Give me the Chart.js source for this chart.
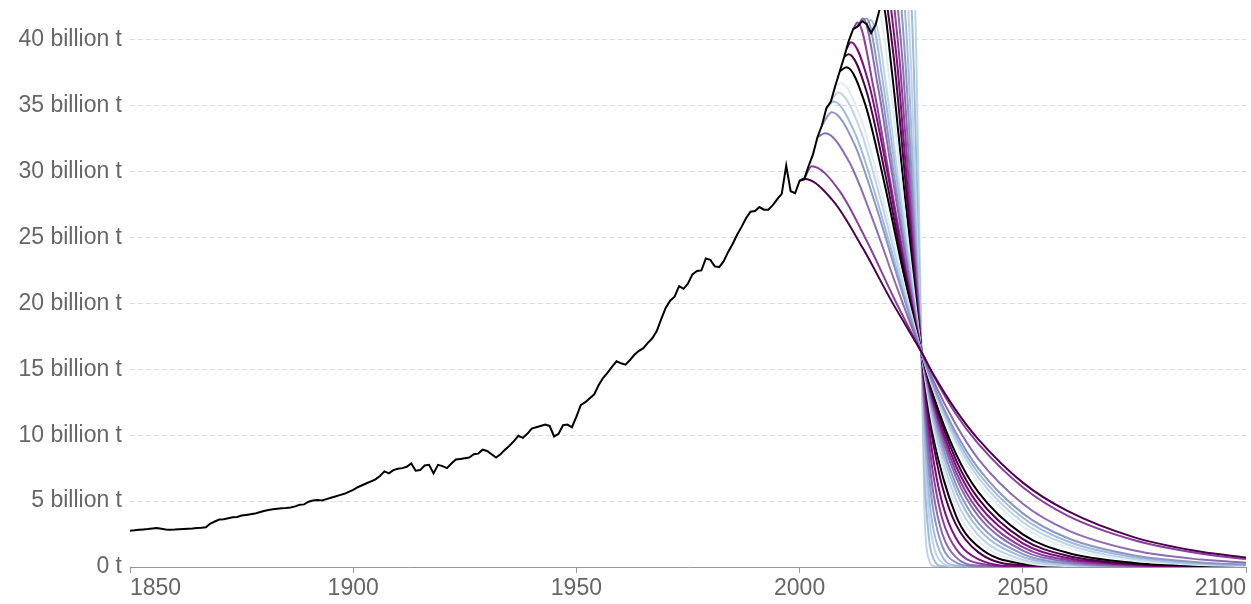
<!DOCTYPE html>
<html>
<head>
<meta charset="utf-8">
<script src="https://cdn.jsdelivr.net/npm/chart.js@4.4.1/dist/chart.umd.min.js"></script>
<style>
  html, body { margin: 0; padding: 0; background: #fff; }
</style>
</head>
<body>
<canvas id="chart" width="1251" height="604"></canvas>
<script>
// historical emissions (billion t), one value per year starting 1850
const histFirstYear = 1850;
const histValues = [
  2.75, 2.78, 2.82, 2.85, 2.88, 2.92, 2.96, 2.90, 2.84, 2.83,
  2.84, 2.86, 2.88, 2.90, 2.92, 2.95, 2.98, 3.02, 3.30, 3.45,
  3.60, 3.62, 3.70, 3.78, 3.80, 3.90, 3.95, 4.00, 4.05, 4.15,
  4.25, 4.32, 4.38, 4.42, 4.45, 4.48, 4.52, 4.60, 4.72, 4.75,
  4.95, 5.05, 5.08, 5.05, 5.15, 5.25, 5.35, 5.45, 5.55, 5.70,
  5.85, 6.05, 6.20, 6.35, 6.50, 6.65, 6.90, 7.25, 7.10, 7.35,
  7.45, 7.50, 7.60, 7.85, 7.30, 7.35, 7.70, 7.75, 7.10, 7.75,
  7.65, 7.50, 7.85, 8.15, 8.20, 8.25, 8.30, 8.55, 8.60, 8.90,
  8.80, 8.55, 8.30, 8.55, 8.90, 9.20, 9.55, 9.95, 9.80, 10.10,
  10.50, 10.60, 10.70, 10.80, 10.70, 9.90, 10.10, 10.75, 10.80, 10.60,
  11.40, 12.30, 12.50, 12.80, 13.10, 13.80, 14.35, 14.75, 15.20, 15.60,
  15.45, 15.35, 15.70, 16.10, 16.40, 16.60, 17.00, 17.35, 17.90, 18.80,
  19.65, 20.20, 20.50, 21.30, 21.10, 21.50, 22.20, 22.45, 22.50, 23.40,
  23.30, 22.80, 22.75, 23.20, 23.90, 24.50, 25.20, 25.80, 26.45, 26.95,
  27.00, 27.30, 27.10, 27.10, 27.45, 27.90, 28.30, 30.45, 28.50, 28.35,
  29.30, 29.40, 30.40, 31.30, 32.60, 33.50, 34.80, 35.30, 36.50, 37.60,
  38.70, 39.90, 40.80, 41.00, 41.40, 41.20, 40.50, 41.10, 42.40, 43.20
];

// mitigation curves as [year, billion t] pairs
const mit01 = [[2000,29.3],[2001,29.45],[2007.6,27.74],[2014.15,24.19],[2020.7,20.11],[2027.3,16.3],[2030,14.6],[2035,11.9],[2040,9.7],[2050,6.4],[2060,4.25],[2075,2.25],[2090,1.15],[2100,0.72]];
const mit02 = [[2001,29.4],[2002.7,30.4],[2008.85,28.57],[2015,24.76],[2021.15,20.39],[2027.3,16.3],[2030,14.5],[2035,11.6],[2040,9.36],[2050,6.05],[2060,3.9],[2075,2.03],[2090,1.0],[2100,0.6]];
const mit03 = [[2004,32.6],[2005.7,32.9],[2011.1,30.74],[2016.5,26.26],[2021.9,21.11],[2027.3,16.3],[2030,14.1],[2035,10.8],[2040,8.2],[2050,4.8],[2060,2.8],[2075,1.25],[2090,0.56],[2100,0.33]];
const mit04 = [[2005,33.5],[2007.2,34.5],[2012.2,32.13],[2017.25,27.22],[2022.3,21.58],[2027.3,16.3],[2030,13.8],[2035,10.2],[2040,7.5],[2050,4.07],[2060,2.2],[2075,0.88],[2090,0.35],[2100,0.19]];
const mit05 = [[2006,34.8],[2007.6,35.3],[2012.5,32.83],[2017.45,27.7],[2022.4,21.81],[2027.3,16.3],[2030,13.7],[2035,9.9],[2040,7.15],[2050,3.74],[2060,1.95],[2075,0.74],[2090,0.27],[2100,0.15]];
const mit06 = [[2007,35.3],[2008.6,36.0],[2013.3,33.44],[2017.95,28.12],[2022.65,22.01],[2027.3,16.3],[2030,13.5],[2035,9.6],[2040,6.8],[2050,3.4],[2060,1.71],[2075,0.61],[2090,0.21],[2100,0.11]];
const mit07 = [[2008,36.5],[2009.2,36.7],[2013.7,34.05],[2018.25,28.54],[2022.8,22.22],[2027.3,16.3],[2030,13.4],[2035,9.25],[2040,6.4],[2050,3.07],[2060,1.47],[2075,0.49],[2090,0.16],[2100,0.08]];
const mit08 = [[2009,37.6],[2010.5,37.9],[2014.7,35.09],[2018.9,29.26],[2023.1,22.56],[2027.3,16.3],[2030,13.0],[2035,8.6],[2040,5.7],[2050,2.48],[2060,1.08],[2075,0.31],[2090,0.09],[2100,0.04]];
const mit09 = [[2010,38.7],[2011,38.9],[2015.1,35.96],[2019.15,29.86],[2023.2,22.85],[2027.3,16.3],[2030,12.8],[2035,8.15],[2040,5.2],[2050,2.11],[2060,0.86],[2075,0.22],[2090,0.06],[2100,0.02]];
const mit10 = [[2010.5,39.3],[2011.5,39.8],[2015.45,36.75],[2019.4,30.4],[2023.35,23.1],[2027.3,16.3],[2030,12.5],[2035,7.7],[2040,4.75],[2050,1.8],[2060,0.68],[2075,0.16],[2090,0.04],[2100,0.01]];
const mit11 = [[2012,40.8],[2013,41.3],[2016.6,36.3],[2020.15,29.55],[2023.7,22.8],[2027.3,16.3],[2030,12.3],[2035,7.26],[2040,4.3],[2050,1.5],[2060,0.53],[2075,0.11],[2090,0.02],[2100,0.01]];
const mit12 = [[2013,41.0],[2014.2,41.6],[2017.5,36.54],[2020.75,29.71],[2024.0,22.88],[2027.3,16.3],[2030,12.0],[2035,6.83],[2040,3.88],[2050,1.25],[2060,0.4],[2075,0.07],[2090,0.01],[2100,0]];
const mit13 = [[2014,41.4],[2015,41.6],[2018.1,36.54],[2021.15,29.71],[2024.2,22.88],[2027.3,16.3],[2030,11.7],[2035,6.27],[2040,3.37],[2050,0.98],[2060,0.28],[2075,0.04],[2090,0.01],[2100,0]];
const mit14 = [[2015,41.2],[2016,41.5],[2018.8,36.46],[2021.65,29.66],[2024.5,22.85],[2027.3,16.3],[2030,11.3],[2035,5.77],[2040,2.93],[2050,0.76],[2060,0.2],[2075,0.03],[2090,0],[2100,0]];
const mit15 = [[2016,40.5],[2016.9,41.2],[2019.5,36.22],[2022.1,29.5],[2024.7,22.77],[2027.3,16.3],[2030,10.9],[2035,5.14],[2040,2.43],[2050,0.54],[2060,0.12],[2075,0.01],[2090,0],[2100,0]];
const mit16 = [[2017,41.1],[2017.8,41.9],[2020.2,36.78],[2022.55,29.87],[2024.9,22.96],[2027.3,16.3],[2030,10.4],[2035,4.58],[2040,2.0],[2050,0.38],[2060,0.07],[2075,0.01],[2090,0],[2100,0]];
const mit17 = [[2018,42.4],[2018.5,42.8],[2020.7,37.5],[2022.9,30.35],[2025.1,23.2],[2027.3,16.3],[2030,9.9],[2035,3.92],[2040,1.55],[2050,0.24],[2060,0.04],[2075,0],[2090,0],[2100,0]];
const mit18 = [[2019.35,43.3],[2021.34,37.9],[2023.33,30.61],[2025.31,23.32],[2027.3,16.3],[2028,14.07],[2029,11.4],[2030,9.25],[2032,6.07],[2035,3.23],[2040,1.13],[2050,0.14],[2100,0]];
const mit19 = [[2020.16,43.3],[2021.95,37.9],[2023.73,30.61],[2025.52,23.32],[2027.3,16.3],[2028,13.6],[2029,10.5],[2030,8.08],[2032,4.8],[2035,2.2],[2040,0.6],[2050,0.04],[2100,0]];
const mit20 = [[2020.97,43.3],[2022.55,37.9],[2024.14,30.61],[2025.72,23.32],[2027.3,16.3],[2028,13.0],[2029,9.46],[2030,6.87],[2032,3.62],[2035,1.39],[2040,0.28],[2050,0],[2100,0]];
const mit21 = [[2021.78,43.3],[2023.16,37.9],[2024.54,30.61],[2025.92,23.32],[2027.3,16.3],[2028,12.3],[2029,8.26],[2030,5.53],[2032,2.49],[2035,0.75],[2040,0.1],[2050,0],[2100,0]];
const mit22 = [[2022.6,43.3],[2023.78,37.9],[2024.95,30.61],[2026.13,23.32],[2027.3,16.3],[2028,11.5],[2029,6.97],[2030,4.22],[2032,1.55],[2035,0.35],[2040,0.03],[2050,0],[2100,0]];
const mit23 = [[2023.4,43.3],[2024.38,37.9],[2025.35,30.61],[2026.33,23.32],[2027.3,16.3],[2028,10.3],[2029,5.4],[2030,2.82],[2032,0.77],[2035,0.11],[2040,0],[2100,0]];
const mit24 = [[2024.2,43.3],[2024.98,37.9],[2025.75,30.61],[2026.53,23.32],[2027.3,16.3],[2028,9.0],[2029,3.84],[2030,1.64],[2032,0.3],[2035,0.02],[2040,0],[2100,0]];
const mit25 = [[2025.0,43.3],[2025.58,37.9],[2026.15,30.61],[2026.73,23.32],[2027.3,16.3],[2028,7.04],[2029,2.12],[2030,0.64],[2032,0.06],[2035,0],[2100,0]];
const mit26 = [[2025.84,43.3],[2026.2,37.9],[2026.57,30.61],[2026.93,23.32],[2027.3,16.3],[2028,4.02],[2029,0.54],[2030,0.07],[2032,0],[2100,0]];

const xTicks = [1850, 1900, 1950, 2000, 2050, 2100];
const yTicks = [0, 5, 10, 15, 20, 25, 30, 35, 40];

const curves = [mit01, mit02, mit03, mit04, mit05, mit06, mit07, mit08, mit09,
  mit10, mit11, mit12, mit13, mit14, mit15, mit16, mit17, mit18, mit19, mit20,
  mit21, mit22, mit23, mit24, mit25, mit26];

const curveColors = [
  '#4d004b', '#88419d', '#8c6bb1', '#8c96c6', '#9ebcda', '#bfd3e6', '#e0ecf4', '#000000',
  '#4d004b', '#810f7c', '#88419d', '#8c6bb1', '#8c96c6', '#9ebcda', '#bfd3e6', '#e0ecf4', '#000000',
  '#4d004b', '#810f7c', '#88419d', '#8c6bb1', '#8c96c6', '#9ebcda', '#bfd3e6', '#9ebcda', '#bfd3e6'
];

Chart.defaults.font.family = '"Liberation Sans", Arial, sans-serif';

const datasets = [{
  label: 'Historical',
  data: histValues.map((v, i) => ({ x: histFirstYear + i, y: v })),
  borderColor: '#000000',
  borderWidth: 2,
  pointRadius: 0,
  tension: 0
}];

curves.forEach(function (c, i) {
  datasets.push({
    label: 'curve ' + (i + 1),
    data: c.map(p => ({ x: p[0], y: p[1] })),
    borderColor: curveColors[i],
    borderWidth: 2,
    pointRadius: 0,
    cubicInterpolationMode: 'monotone'
  });
});

new Chart(document.getElementById('chart'), {
  type: 'line',
  data: { datasets: datasets },
  options: {
    responsive: false,
    animation: false,
    devicePixelRatio: 1,
    layout: { padding: { top: 10, right: 5, left: 0, bottom: 0 } },
    plugins: { legend: { display: false }, tooltip: { enabled: false } },
    scales: {
      x: {
        type: 'linear',
        min: 1850,
        max: 2100,
        afterBuildTicks: function (s) { s.ticks = xTicks.map(v => ({ value: v })); },
        afterFit: function (s) { s.height = 37; s.paddingLeft = 0; s.paddingRight = 0; },
        ticks: {
          align: 'inner',
          maxRotation: 0,
          color: '#666',
          padding: 2,
          font: { size: 23 },
          callback: v => String(v)
        },
        grid: { drawOnChartArea: false, drawTicks: true, tickLength: 6, color: '#999' },
        border: { display: true, color: '#999', width: 1 }
      },
      y: {
        min: 0,
        max: 42.25,
        afterBuildTicks: function (s) { s.ticks = yTicks.map(v => ({ value: v })); },
        afterFit: function (s) { s.width = 130; s.paddingTop = 0; s.paddingBottom = 0; },
        ticks: {
          color: '#666',
          padding: 8,
          font: { size: 23 },
          callback: v => v === 0 ? '0 t' : v + ' billion t'
        },
        grid: {
          drawTicks: false,
          color: c => (c.tick && c.tick.value === 0) ? 'rgba(0,0,0,0)' : '#dcdcdc'
        },
        border: { display: false, dash: [5, 3] }
      }
    }
  }
});
</script>
</body>
</html>
